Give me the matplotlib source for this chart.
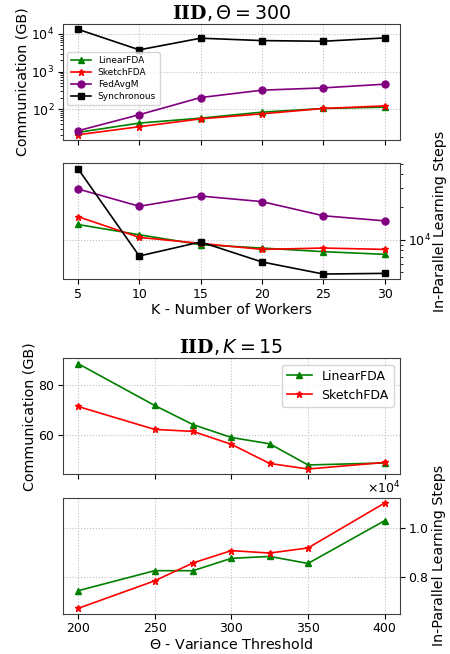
import numpy as np
import matplotlib
matplotlib.use('Agg')
import matplotlib.pyplot as plt
from matplotlib.ticker import MultipleLocator, ScalarFormatter

plt.rcParams['mathtext.fontset'] = 'custom'
plt.rcParams['mathtext.rm'] = 'DejaVu Sans'
plt.rcParams['mathtext.it'] = 'DejaVu Sans:italic'
plt.rcParams['mathtext.bf'] = 'DejaVu Serif:bold'

# ---- data: varying number of workers (IID, theta = 300)
workers = [5, 10, 15, 20, 25, 30]
comm_linear = [24, 42.5, 57.5, 83, 104, 113]
comm_sketch = [20.8, 34, 55, 75, 104, 122]
comm_fedavgm = [26.5, 71, 203, 319, 367, 460]
comm_sync = [13300, 3770, 7700, 6650, 6380, 7830]
steps_linear = [13800, 11100, 9000, 8380, 7760, 7330]
steps_sketch = [16300, 10500, 9250, 8140, 8380, 8140]
steps_fedavgm = [29300, 20300, 25200, 22400, 16600, 14900]
steps_sync = [45100, 7080, 9530, 6240, 4830, 4900]

# ---- data: varying variance threshold (IID, K = 15)
theta = [200, 250, 275, 300, 325, 350, 400]
comm_linear_t = [88.5, 71.9, 64.3, 59.2, 56.7, 48.3, 49.1]
comm_sketch_t = [71.5, 62.4, 61.6, 56.5, 48.9, 46.7, 49.3]
steps_linear_t = [7420, 8250, 8250, 8760, 8840, 8550, 10320]
steps_sketch_t = [6690, 7830, 8570, 9080, 8980, 9190, 11050]

styles = {
    'LinearFDA': dict(color='green', marker='^'),
    'SketchFDA': dict(color='red', marker='*'),
    'FedAvgM': dict(color='purple', marker='o'),
    'Synchronous': dict(color='black', marker='s'),
}
lw = 1.2
ms = 5
lab_fs = 10.3
tick_fs = 9

fig = plt.figure(figsize=(4.5, 6.54), dpi=100)
L, W, H = 0.139, 0.750, 0.1774
ax1 = fig.add_axes([L, 0.7859, W, H])
ax2 = fig.add_axes([L, 0.5729, W, H], sharex=ax1)
ax3 = fig.add_axes([L, 0.2748, W, H])
ax4 = fig.add_axes([L, 0.0616, W, H], sharex=ax3)

# top group
for name, ys in [('LinearFDA', comm_linear), ('SketchFDA', comm_sketch),
                 ('FedAvgM', comm_fedavgm), ('Synchronous', comm_sync)]:
    ax1.plot(workers, ys, label=name, lw=lw, ms=ms, **styles[name])
for name, ys in [('LinearFDA', steps_linear), ('SketchFDA', steps_sketch),
                 ('FedAvgM', steps_fedavgm), ('Synchronous', steps_sync)]:
    ax2.plot(workers, ys, label=name, lw=lw, ms=ms, **styles[name])

ax1.set_yscale('log')
ax2.set_yscale('log')
ax1.set_title(r'$\mathbf{IID}, \Theta = 300$', fontsize=13.7, pad=3.5)
ax1.set_ylabel('Communication (GB)', fontsize=lab_fs, labelpad=1)
ax1.legend(loc='center left', bbox_to_anchor=(0, 0.53), fontsize=6.5,
           handlelength=2.2, labelspacing=0.35)
ax1.tick_params(labelbottom=False)
ax2.yaxis.tick_right()
ax2.yaxis.set_label_position('right')
ax2.set_ylabel('In-Parallel Learning Steps', fontsize=lab_fs, labelpad=1.5)
ax2.set_xlabel('K - Number of Workers', fontsize=lab_fs, labelpad=1.5)
ax2.set_xticks(workers)

# bottom group
ax3.plot(theta, comm_linear_t, label='LinearFDA', lw=lw, ms=ms, **styles['LinearFDA'])
ax3.plot(theta, comm_sketch_t, label='SketchFDA', lw=lw, ms=ms, **styles['SketchFDA'])
ax4.plot(theta, steps_linear_t, lw=lw, ms=ms, **styles['LinearFDA'])
ax4.plot(theta, steps_sketch_t, lw=lw, ms=ms, **styles['SketchFDA'])

ax3.set_title(r'$\mathbf{IID}, K = 15$', fontsize=13.7, pad=3.5)
ax3.set_ylabel('Communication (GB)', fontsize=lab_fs, labelpad=1)
ax3.yaxis.set_major_locator(MultipleLocator(20))
ax3.legend(loc='upper right', fontsize=9, handlelength=2.0)
ax3.tick_params(labelbottom=False)
ax4.yaxis.tick_right()
ax4.yaxis.set_label_position('right')
ax4.yaxis.set_major_locator(MultipleLocator(2000))
fmt = ScalarFormatter(useMathText=True)
fmt.set_powerlimits((0, 0))
ax4.yaxis.set_major_formatter(fmt)
ax4.set_ylabel('In-Parallel Learning Steps', fontsize=lab_fs, labelpad=1.5)
ax4.set_xlabel(r'$\Theta$ - Variance Threshold', fontsize=lab_fs, labelpad=1.5)
ax4.set_xticks([200, 250, 300, 350, 400])

for ax in [ax1, ax2, ax3, ax4]:
    ax.grid(True, linestyle=':', color='0.75', linewidth=0.8)
    ax.tick_params(labelsize=tick_fs, pad=2.5)
    for s in ax.spines.values():
        s.set_color('0.25')
ax4.yaxis.get_offset_text().set_fontsize(tick_fs)

fig.savefig('out.png', dpi=100)
